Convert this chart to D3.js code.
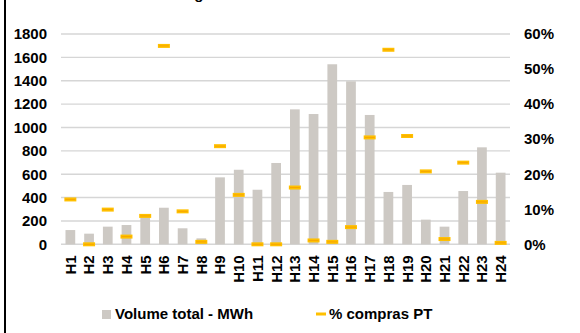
<!DOCTYPE html>
<html><head><meta charset="utf-8">
<script src="https://cdn.jsdelivr.net/npm/d3@7"></script>
<style>
html,body{margin:0;padding:0;background:#fff;}
svg{display:block;font-family:"Liberation Sans",Arial,sans-serif;font-weight:bold;}
</style></head>
<body><svg id="c" width="580" height="333"></svg>
<script>
const categories = ["H1","H2","H3","H4","H5","H6","H7","H8","H9","H10","H11","H12","H13","H14","H15","H16","H17","H18","H19","H20","H21","H22","H23","H24"];
const volume = [122,91,151,165,245,313,137,51,573,638,467,696,1155,1115,1541,1395,1107,448,508,211,151,456,830,613];
const pctPT = [0.128,0,0.099,0.022,0.081,0.566,0.094,0.007,0.280,0.141,0,0,0.162,0.011,0.007,0.049,0.305,0.555,0.309,0.208,0.015,0.233,0.121,0.004];
const leftTicks = [0,200,400,600,800,1000,1200,1400,1600,1800];
const rightTicks = [0,0.1,0.2,0.3,0.4,0.5,0.6];
const title = "Volume negociado";
const legendLabels = ["Volume total - MWh","% compras PT"];

const svg = d3.select("#c");
const L = 61, R = 510, T = 34, B = 244.3;
const x = d3.scaleBand().domain(categories).range([L,R]).paddingInner(0.48).paddingOuter(0.24);
const yL = d3.scaleLinear().domain([0,1800]).range([B,T]);
const yR = d3.scaleLinear().domain([0,0.6]).range([B,T]);
const barColor = "#CDC9C4", mk = "#FFC000", fs = 15;

// border
svg.append("line").attr("x1",5).attr("x2",5).attr("y1",0).attr("y2",333).attr("stroke","#000").attr("stroke-width",2);

// title (mostly cut off)
svg.append("text").attr("x",119.5).attr("y",-1.5).attr("font-size",fs).attr("fill","#000").text(title);

// gridlines
svg.append("g").selectAll("line").data(leftTicks).join("line")
  .attr("x1",L).attr("x2",R).attr("y1",d=>yL(d)).attr("y2",d=>yL(d))
  .attr("stroke","#D6D6D6").attr("stroke-width",1.4);

// left axis
const ga = svg.append("g").attr("transform",`translate(${L},0)`)
  .call(d3.axisLeft(yL).tickValues(leftTicks).tickSize(0).tickPadding(14).tickFormat(d3.format("d")));
ga.select(".domain").remove();
ga.selectAll("text").attr("font-size",fs).attr("font-family","Liberation Sans, Arial").attr("font-weight","bold").attr("fill","#000");

// right axis
const gr = svg.append("g").attr("transform",`translate(${R},0)`)
  .call(d3.axisRight(yR).tickValues(rightTicks).tickSize(0).tickPadding(14).tickFormat(d3.format(".0%")));
gr.select(".domain").remove();
gr.selectAll("text").attr("font-size",fs).attr("font-family","Liberation Sans, Arial").attr("font-weight","bold").attr("fill","#000");

// bars
svg.append("g").selectAll("rect").data(categories).join("rect")
  .attr("x",d=>x(d)).attr("width",x.bandwidth())
  .attr("y",(d,i)=>yL(volume[i])).attr("height",(d,i)=>B-yL(volume[i]))
  .attr("fill",barColor);

// markers
const cx = d=>x(d)+x.bandwidth()/2;
const mg = svg.append("g");
mg.selectAll("rect").data(categories).join("rect")
  .attr("x",d=>cx(d)-6).attr("width",12)
  .attr("y",(d,i)=>yR(pctPT[i])-2).attr("height",4)
  .attr("fill",mk);
mg.selectAll("line").data(categories).join("line")
  .attr("x1",d=>cx(d)-5).attr("x2",d=>cx(d)+5)
  .attr("y1",(d,i)=>yR(pctPT[i])).attr("y2",(d,i)=>yR(pctPT[i]))
  .attr("stroke","#F7A600").attr("stroke-width",1);

// x labels
const gx = svg.append("g").attr("transform",`translate(0,${B})`)
  .call(d3.axisBottom(x).tickSize(0).tickPadding(0));
gx.select(".domain").remove();
gx.selectAll("text").attr("font-size",fs).attr("font-family","Liberation Sans, Arial").attr("font-weight","bold").attr("fill","#000")
  .attr("text-anchor","end").attr("dy","0.36em").attr("dx",0)
  .attr("transform","translate(0,11) rotate(-90)").attr("x",0).attr("y",0);

// legend
const lg = svg.append("g");
lg.append("rect").attr("x",102).attr("y",310).attr("width",9).attr("height",9).attr("fill",barColor);
lg.append("text").attr("x",115).attr("y",319).attr("font-size",fs).attr("fill","#000").text(legendLabels[0]);
lg.append("rect").attr("x",316).attr("y",312.5).attr("width",10).attr("height",3).attr("fill",mk);
lg.append("text").attr("x",329).attr("y",319).attr("font-size",fs).attr("fill","#000").text(legendLabels[1]);
</script></body></html>
